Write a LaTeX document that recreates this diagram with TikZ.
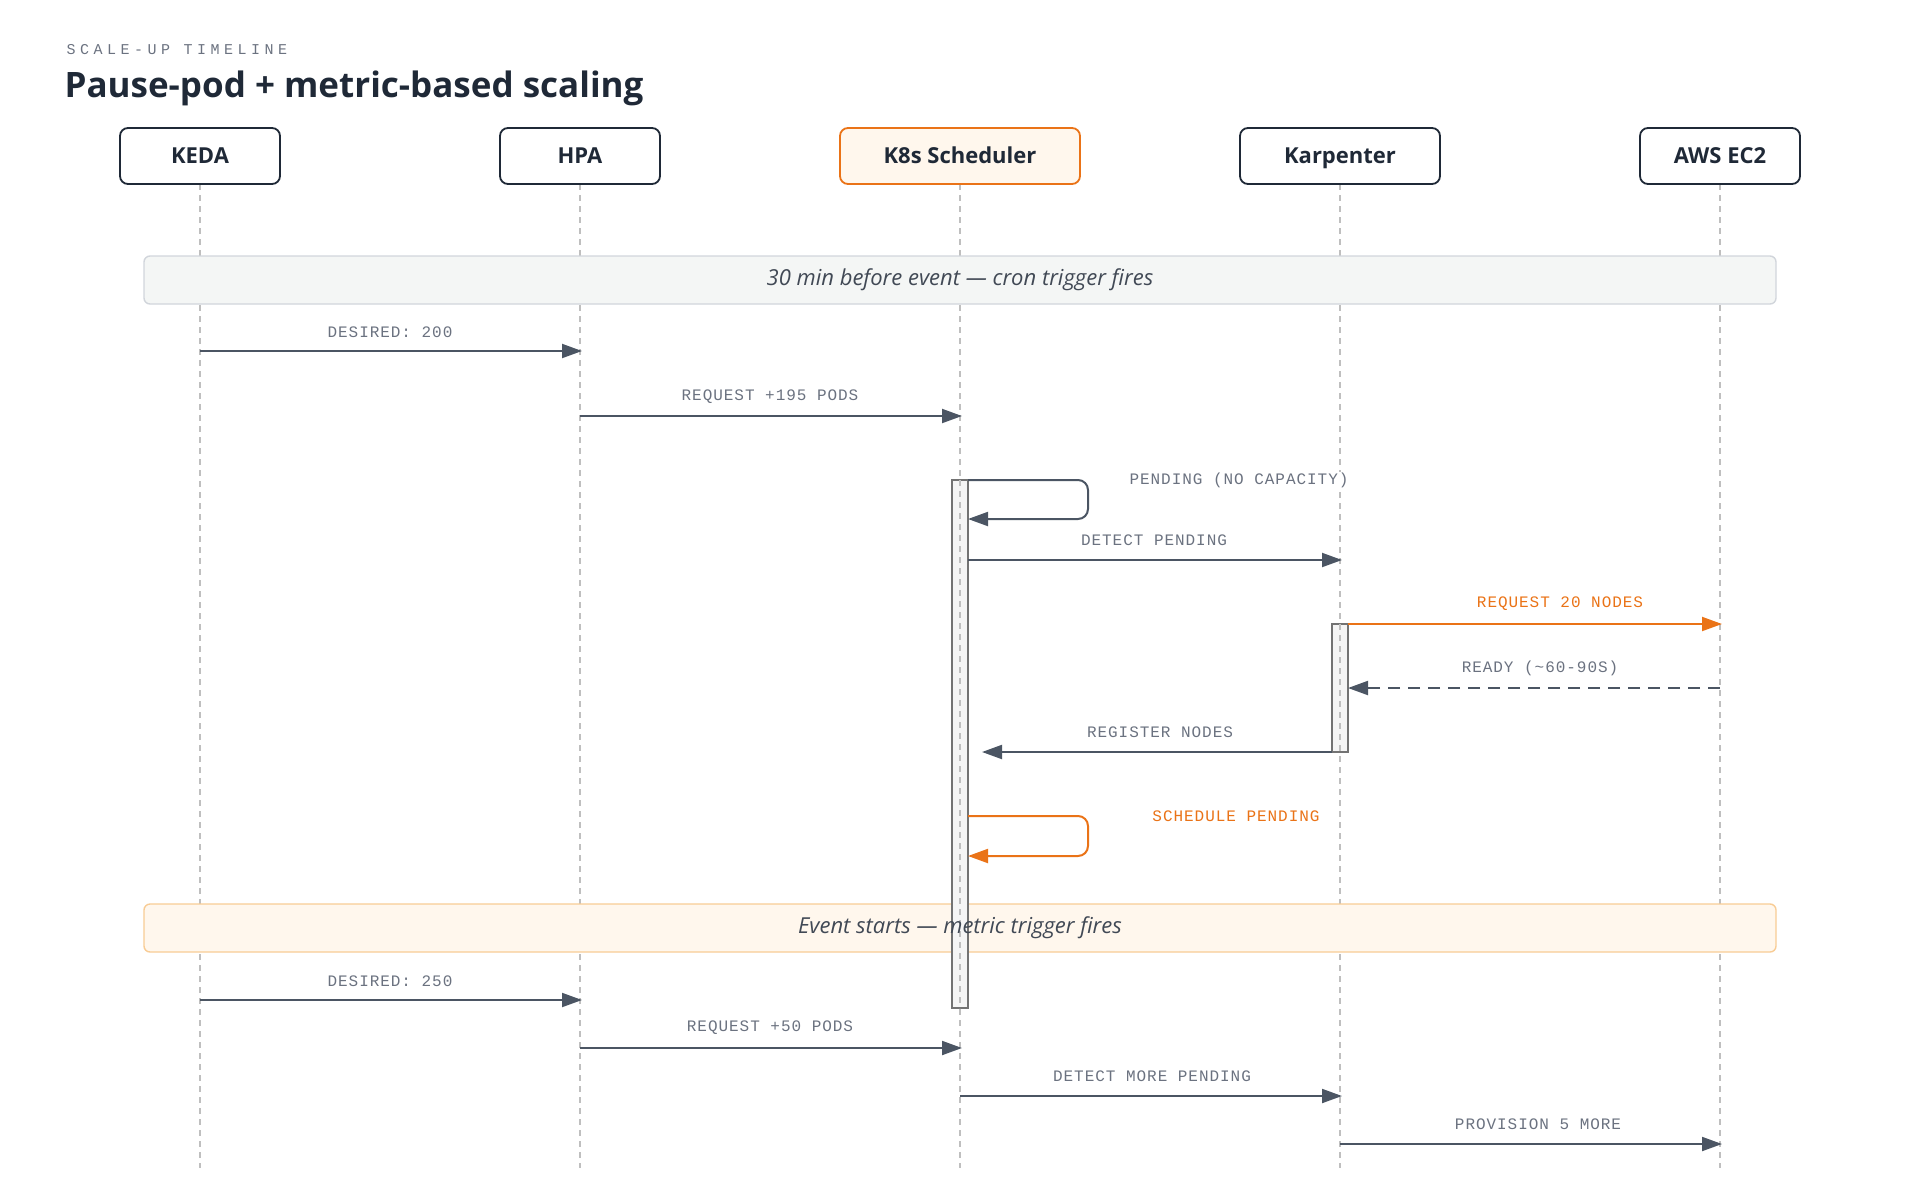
\documentclass[tikz,border=0pt]{standalone}
\usepackage{fontspec}
\setmainfont{Open Sans}
\newfontfamily\monof{Liberation Mono}[LetterSpace=6]
\newfontfamily\monow{Liberation Mono}[LetterSpace=30]
\usetikzlibrary{arrows.meta}
\definecolor{ink}{HTML}{1F2937}
\definecolor{arr}{HTML}{4B5563}
\definecolor{lbl}{HTML}{6B7280}
\definecolor{org}{HTML}{EA7317}
\definecolor{bandA}{HTML}{F4F6F5}
\definecolor{bandAb}{HTML}{D1D5DB}
\definecolor{bandB}{HTML}{FFF7ED}
\definecolor{bandBb}{HTML}{F8CC95}
\tikzset{
 actor/.style={draw=ink,line width=1.8pt,rounded corners=8pt,fill=white,minimum height=56pt,text height=16pt,text depth=2pt,font=\fontsize{22}{25}\selectfont\bfseries,text=ink},
 life/.style={draw=gray!50,line width=1.2pt,dash pattern=on 6pt off 5pt},
 msg/.style={draw=arr,line width=2pt,-{Triangle[length=20pt,width=14pt]}},
 omsg/.style={msg,draw=org,-{Triangle[length=20pt,width=14pt,fill=org]}},
 lab/.style={font=\monof\fontsize{16}{18}\selectfont,text=lbl,inner sep=1pt},
 olab/.style={lab,text=org},
 band/.style={rounded corners=6pt,line width=1.4pt},
 bandt/.style={font=\itshape\fontsize{22}{25}\selectfont,text=ink!85},
 act/.style={draw=gray!90!black,fill=gray!8,line width=1.8pt}
}
\begin{document}
\begin{tikzpicture}[x=1pt,y=-1pt]
\useasboundingbox (0,0) rectangle (1920,1200);
\node[anchor=west,font=\monow\fontsize{15}{17}\selectfont,text=lbl] (sub) at (63,50) {SCALE-UP TIMELINE};
\node[anchor=west,font=\bfseries\fontsize{35}{40}\selectfont,text=ink] (ttl) at (61,88) {Pause-pod + metric-based scaling};
% lifelines
\foreach \n/\x in {keda/200,hpa/580,sch/960,kar/1340,ec2/1720}{
 \coordinate (\n t) at (\x,184); \coordinate (\n b) at (\x,1168);
 \draw[life] (\n t) -- (\n b);}
\node[actor,minimum width=160pt] (keda) at (200,156) {KEDA};
\node[actor,minimum width=160pt] (hpa) at (580,156) {HPA};
\node[actor,minimum width=240pt,draw=org,fill=bandB] (sch) at (960,156) {K8s Scheduler};
\node[actor,minimum width=200pt] (kar) at (1340,156) {Karpenter};
\node[actor,minimum width=160pt] (ec2) at (1720,156) {AWS EC2};
% bands
\draw[band,fill=bandA,draw=bandAb] (144,256) rectangle (1776,304);
\node[bandt] (b1) at (960,280) {30 min before event — cron trigger fires};
\draw[band,fill=bandB,draw=bandBb] (144,904) rectangle (1776,952);
% activation bars
\draw[act] (952,480) rectangle (968,1008);
\draw[life] (960,480) -- (960,1008);
\draw[act] (1332,624) rectangle (1348,752);
\draw[life] (1340,624) -- (1340,752);
\node[bandt] (b2) at (960,928) {Event starts — metric trigger fires};
% coordinates for messages
\coordinate (k1) at (200,351); \coordinate (h1) at (582,351);
\coordinate (h2) at (580,416); \coordinate (s2) at (962,416);
\coordinate (s3) at (968,480); \coordinate (s3b) at (968,519);
\coordinate (s4) at (968,560); \coordinate (r4) at (1342,560);
\coordinate (r5) at (1348,624); \coordinate (e5) at (1722,624);
\coordinate (e6) at (1720,688); \coordinate (r6) at (1348,688);
\coordinate (r7) at (1332,752); \coordinate (s7) at (982,752);
\coordinate (s8) at (968,816); \coordinate (s8b) at (968,856);
\coordinate (k9) at (200,1000); \coordinate (h9) at (582,1000);
\coordinate (h10) at (580,1048); \coordinate (s10) at (962,1048);
\coordinate (s11) at (960,1096); \coordinate (r11) at (1342,1096);
\coordinate (r12) at (1340,1144); \coordinate (e12) at (1722,1144);
\draw[msg] (k1) -- (h1);
\node[lab] (l1) at (390,332) {DESIRED: 200};
\draw[msg] (h2) -- (s2);
\node[lab] (l2) at (770,397) {REQUEST +195 PODS};
\draw[msg,rounded corners=10pt] (s3) -- (1088,480) -- (1088,519) -- (s3b);
\node[lab,fill=white] (l3) at (1239,480) {PENDING (NO CAPACITY)};
\draw[msg] (s4) -- (r4);
\node[lab] (l4) at (1154,540) {DETECT PENDING};
\draw[omsg] (r5) -- (e5);
\node[olab] (l5) at (1560,604) {REQUEST 20 NODES};
\draw[msg,dash pattern=on 12pt off 8pt] (e6) -- (r6);
\node[lab] (l6) at (1540,668) {READY (\textasciitilde60-90S)};
\draw[msg] (r7) -- (s7);
\node[lab] (l7) at (1160,732) {REGISTER NODES};
\draw[omsg,rounded corners=10pt] (s8) -- (1088,816) -- (1088,856) -- (s8b);
\node[olab,fill=white,inner ysep=10pt] (l8) at (1236,816) {SCHEDULE PENDING};
\draw[msg] (k9) -- (h9);
\node[lab] (l9) at (390,981) {DESIRED: 250};
\draw[msg] (h10) -- (s10);
\node[lab] (l10) at (770,1028) {REQUEST +50 PODS};
\draw[msg] (s11) -- (r11);
\node[lab] (l11) at (1152,1076) {DETECT MORE PENDING};
\draw[msg] (r12) -- (e12);
\node[lab] (l12) at (1538,1124) {PROVISION 5 MORE};
\end{tikzpicture}
\end{document}
